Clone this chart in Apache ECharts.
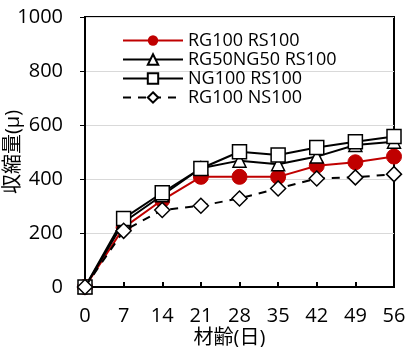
<!DOCTYPE html>
<html><head><meta charset="utf-8">
<script src="https://cdn.jsdelivr.net/npm/echarts@6/dist/echarts.min.js"></script>
<style>html,body{margin:0;padding:0;background:#fff}#c{width:406px;height:347px}</style>
</head><body><div id="c"></div>
<script>
const ages = [0, 7, 14, 21, 28, 35, 42, 49, 56];
const seriesNames = ['RG100 RS100', 'RG50NG50 RS100', 'NG100 RS100', 'RG100 NS100'];
const rg100rs100 = [0, 220, 322, 408, 408, 408, 449, 462, 483];
const rg50ng50rs100 = [0, 240, 340, 440, 468, 455, 483, 526, 538];
const ng100rs100 = [0, 254, 349, 439, 501, 489, 517, 538, 557];
const rg100ns100 = [0, 208, 285, 301, 328, 365, 402, 406, 418];
const yTicks = [0, 200, 400, 600, 800, 1000];

const FONT = '"Open Sans", "Noto Sans CJK JP", sans-serif';
function pairs(v){ return ages.map((a,i)=>[a, v[i]]); }
const chart = echarts.init(document.getElementById('c'), null, {renderer:'canvas'});
chart.setOption({
  animation:false,
  textStyle:{fontFamily:FONT},
  grid:{left:85, right:12, top:17, bottom:60, show:true, borderColor:'#000', borderWidth:2,
        containLabel:false, outerBoundsMode:'none'},
  legend:{
    left:117, top:26, orient:'vertical', itemWidth:60, itemHeight:13, itemGap:0,
    data:seriesNames,
    textStyle:{fontSize:18, color:'#000', fontFamily:FONT, lineHeight:19}
  },
  xAxis:{
    type:'value', min:0, max:56, interval:7,
    name:'材齢(日)', nameLocation:'middle', nameGap:41, nameMoveOverlap:false,
    nameTextStyle:{fontSize:20, color:'#000', fontFamily:FONT, padding:[0,20,0,0]},
    axisLine:{show:true, lineStyle:{color:'#000', width:2}},
    axisTick:{show:true, inside:true, length:5, lineStyle:{color:'#000', width:2}},
    axisLabel:{fontSize:20, color:'#000', margin:19, fontFamily:FONT},
    splitLine:{show:false}
  },
  yAxis:{
    type:'value', min:0, max:1000, interval:200,
    name:'収縮量(μ)', nameLocation:'middle', nameGap:62, nameRotate:90, nameMoveOverlap:false,
    nameTextStyle:{fontSize:20, color:'#000', fontFamily:FONT},
    axisLine:{show:true, lineStyle:{color:'#000', width:2}},
    axisTick:{show:true, inside:false, length:5, lineStyle:{color:'#000', width:1}},
    axisLabel:{fontSize:20, color:'#000', margin:22, fontFamily:FONT,
      formatter:v=>yTicks.includes(v)?String(v):''},
    splitLine:{show:true, lineStyle:{color:'#d9d9d9', width:1}}
  },
  series:[
    {name:seriesNames[0], type:'line', data:pairs(rg100rs100), symbol:'circle', symbolSize:15,
     itemStyle:{color:'#c00000', borderColor:'#c00000'}, lineStyle:{color:'#c00000', width:2}, z:3},
    {name:seriesNames[1], type:'line', data:pairs(rg50ng50rs100), symbol:'triangle', symbolSize:13,
     itemStyle:{color:'#fff', borderColor:'#000', borderWidth:1.5}, lineStyle:{color:'#000', width:2}, z:4},
    {name:seriesNames[2], type:'line', data:pairs(ng100rs100), symbol:'rect', symbolSize:14,
     itemStyle:{color:'#fff', borderColor:'#000', borderWidth:1.5}, lineStyle:{color:'#000', width:2}, z:5},
    {name:seriesNames[3], type:'line', data:pairs(rg100ns100), symbol:'diamond', symbolSize:[15,15],
     itemStyle:{color:'#fff', borderColor:'#000', borderWidth:1.5}, lineStyle:{color:'#000', width:2, type:[8,7]}, z:6}
  ]
});
</script></body></html>
